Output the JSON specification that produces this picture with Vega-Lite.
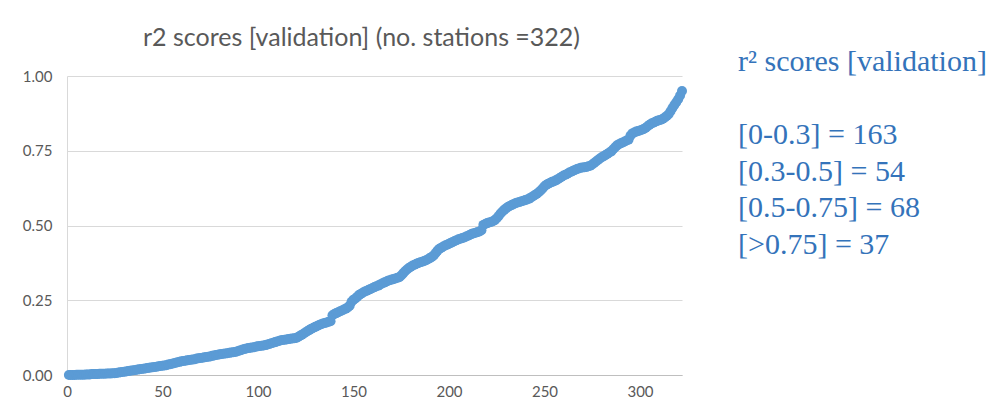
{
  "$schema": "https://vega.github.io/schema/vega-lite/v6.json",
  "background": "white",
  "padding": {"left": 22, "top": 26, "right": 0, "bottom": 0},
  "config": {"view": {"stroke": null}, "font": "Lato"},
  "spacing": 51,
  "datasets": {
    "scores": [
      {"station":1,"r2":0.000},{"station":2,"r2":0.000},{"station":3,"r2":0.000},{"station":4,"r2":0.000},{"station":5,"r2":0.001},{"station":6,"r2":0.001},{"station":7,"r2":0.001},{"station":8,"r2":0.001},{"station":9,"r2":0.001},{"station":10,"r2":0.002},
      {"station":11,"r2":0.002},{"station":12,"r2":0.002},{"station":13,"r2":0.003},{"station":14,"r2":0.003},{"station":15,"r2":0.003},{"station":16,"r2":0.003},{"station":17,"r2":0.004},{"station":18,"r2":0.004},{"station":19,"r2":0.004},{"station":20,"r2":0.004},
      {"station":21,"r2":0.005},{"station":22,"r2":0.005},{"station":23,"r2":0.005},{"station":24,"r2":0.006},{"station":25,"r2":0.006},{"station":26,"r2":0.007},{"station":27,"r2":0.008},{"station":28,"r2":0.009},{"station":29,"r2":0.010},{"station":30,"r2":0.011},
      {"station":31,"r2":0.012},{"station":32,"r2":0.013},{"station":33,"r2":0.014},{"station":34,"r2":0.015},{"station":35,"r2":0.016},{"station":36,"r2":0.017},{"station":37,"r2":0.018},{"station":38,"r2":0.019},{"station":39,"r2":0.020},{"station":40,"r2":0.021},
      {"station":41,"r2":0.022},{"station":42,"r2":0.023},{"station":43,"r2":0.024},{"station":44,"r2":0.025},{"station":45,"r2":0.026},{"station":46,"r2":0.027},{"station":47,"r2":0.028},{"station":48,"r2":0.029},{"station":49,"r2":0.030},{"station":50,"r2":0.031},
      {"station":51,"r2":0.032},{"station":52,"r2":0.033},{"station":53,"r2":0.035},{"station":54,"r2":0.036},{"station":55,"r2":0.038},{"station":56,"r2":0.039},{"station":57,"r2":0.041},{"station":58,"r2":0.043},{"station":59,"r2":0.044},{"station":60,"r2":0.046},
      {"station":61,"r2":0.047},{"station":62,"r2":0.048},{"station":63,"r2":0.049},{"station":64,"r2":0.050},{"station":65,"r2":0.051},{"station":66,"r2":0.052},{"station":67,"r2":0.053},{"station":68,"r2":0.055},{"station":69,"r2":0.056},{"station":70,"r2":0.057},
      {"station":71,"r2":0.058},{"station":72,"r2":0.059},{"station":73,"r2":0.060},{"station":74,"r2":0.061},{"station":75,"r2":0.062},{"station":76,"r2":0.064},{"station":77,"r2":0.065},{"station":78,"r2":0.067},{"station":79,"r2":0.068},{"station":80,"r2":0.069},
      {"station":81,"r2":0.070},{"station":82,"r2":0.071},{"station":83,"r2":0.072},{"station":84,"r2":0.073},{"station":85,"r2":0.074},{"station":86,"r2":0.075},{"station":87,"r2":0.076},{"station":88,"r2":0.077},{"station":89,"r2":0.079},{"station":90,"r2":0.081},
      {"station":91,"r2":0.083},{"station":92,"r2":0.085},{"station":93,"r2":0.087},{"station":94,"r2":0.089},{"station":95,"r2":0.090},{"station":96,"r2":0.091},{"station":97,"r2":0.092},{"station":98,"r2":0.093},{"station":99,"r2":0.095},{"station":100,"r2":0.096},
      {"station":101,"r2":0.097},{"station":102,"r2":0.098},{"station":103,"r2":0.099},{"station":104,"r2":0.100},{"station":105,"r2":0.102},{"station":106,"r2":0.104},{"station":107,"r2":0.106},{"station":108,"r2":0.108},{"station":109,"r2":0.110},{"station":110,"r2":0.112},
      {"station":111,"r2":0.114},{"station":112,"r2":0.116},{"station":113,"r2":0.117},{"station":114,"r2":0.118},{"station":115,"r2":0.119},{"station":116,"r2":0.120},{"station":117,"r2":0.121},{"station":118,"r2":0.122},{"station":119,"r2":0.123},{"station":120,"r2":0.124},
      {"station":121,"r2":0.127},{"station":122,"r2":0.131},{"station":123,"r2":0.135},{"station":124,"r2":0.139},{"station":125,"r2":0.143},{"station":126,"r2":0.147},{"station":127,"r2":0.151},{"station":128,"r2":0.155},{"station":129,"r2":0.158},{"station":130,"r2":0.161},
      {"station":131,"r2":0.164},{"station":132,"r2":0.167},{"station":133,"r2":0.170},{"station":134,"r2":0.172},{"station":135,"r2":0.174},{"station":136,"r2":0.176},{"station":137,"r2":0.178},{"station":138,"r2":0.180},{"station":139,"r2":0.200},{"station":140,"r2":0.204},
      {"station":141,"r2":0.207},{"station":142,"r2":0.210},{"station":143,"r2":0.213},{"station":144,"r2":0.216},{"station":145,"r2":0.219},{"station":146,"r2":0.222},{"station":147,"r2":0.226},{"station":148,"r2":0.232},{"station":149,"r2":0.245},{"station":150,"r2":0.252},
      {"station":151,"r2":0.256},{"station":152,"r2":0.262},{"station":153,"r2":0.268},{"station":154,"r2":0.272},{"station":155,"r2":0.276},{"station":156,"r2":0.279},{"station":157,"r2":0.282},{"station":158,"r2":0.285},{"station":159,"r2":0.288},{"station":160,"r2":0.291},
      {"station":161,"r2":0.294},{"station":162,"r2":0.297},{"station":163,"r2":0.299},{"station":164,"r2":0.303},{"station":165,"r2":0.306},{"station":166,"r2":0.309},{"station":167,"r2":0.312},{"station":168,"r2":0.315},{"station":169,"r2":0.317},{"station":170,"r2":0.319},
      {"station":171,"r2":0.321},{"station":172,"r2":0.323},{"station":173,"r2":0.325},{"station":174,"r2":0.327},{"station":175,"r2":0.333},{"station":176,"r2":0.340},{"station":177,"r2":0.347},{"station":178,"r2":0.353},{"station":179,"r2":0.358},{"station":180,"r2":0.362},
      {"station":181,"r2":0.366},{"station":182,"r2":0.369},{"station":183,"r2":0.372},{"station":184,"r2":0.375},{"station":185,"r2":0.377},{"station":186,"r2":0.379},{"station":187,"r2":0.381},{"station":188,"r2":0.384},{"station":189,"r2":0.387},{"station":190,"r2":0.391},
      {"station":191,"r2":0.395},{"station":192,"r2":0.400},{"station":193,"r2":0.408},{"station":194,"r2":0.416},{"station":195,"r2":0.422},{"station":196,"r2":0.426},{"station":197,"r2":0.430},{"station":198,"r2":0.433},{"station":199,"r2":0.436},{"station":200,"r2":0.439},
      {"station":201,"r2":0.442},{"station":202,"r2":0.445},{"station":203,"r2":0.448},{"station":204,"r2":0.451},{"station":205,"r2":0.454},{"station":206,"r2":0.456},{"station":207,"r2":0.458},{"station":208,"r2":0.460},{"station":209,"r2":0.463},{"station":210,"r2":0.466},
      {"station":211,"r2":0.469},{"station":212,"r2":0.472},{"station":213,"r2":0.474},{"station":214,"r2":0.476},{"station":215,"r2":0.478},{"station":216,"r2":0.480},{"station":217,"r2":0.484},{"station":218,"r2":0.502},{"station":219,"r2":0.505},{"station":220,"r2":0.508},
      {"station":221,"r2":0.510},{"station":222,"r2":0.512},{"station":223,"r2":0.514},{"station":224,"r2":0.518},{"station":225,"r2":0.524},{"station":226,"r2":0.532},{"station":227,"r2":0.540},{"station":228,"r2":0.547},{"station":229,"r2":0.553},{"station":230,"r2":0.558},
      {"station":231,"r2":0.563},{"station":232,"r2":0.566},{"station":233,"r2":0.569},{"station":234,"r2":0.572},{"station":235,"r2":0.575},{"station":236,"r2":0.577},{"station":237,"r2":0.579},{"station":238,"r2":0.581},{"station":239,"r2":0.583},{"station":240,"r2":0.585},
      {"station":241,"r2":0.587},{"station":242,"r2":0.590},{"station":243,"r2":0.594},{"station":244,"r2":0.598},{"station":245,"r2":0.602},{"station":246,"r2":0.606},{"station":247,"r2":0.611},{"station":248,"r2":0.617},{"station":249,"r2":0.624},{"station":250,"r2":0.631},
      {"station":251,"r2":0.636},{"station":252,"r2":0.640},{"station":253,"r2":0.643},{"station":254,"r2":0.646},{"station":255,"r2":0.648},{"station":256,"r2":0.651},{"station":257,"r2":0.655},{"station":258,"r2":0.659},{"station":259,"r2":0.663},{"station":260,"r2":0.667},
      {"station":261,"r2":0.670},{"station":262,"r2":0.673},{"station":263,"r2":0.677},{"station":264,"r2":0.680},{"station":265,"r2":0.683},{"station":266,"r2":0.686},{"station":267,"r2":0.689},{"station":268,"r2":0.691},{"station":269,"r2":0.693},{"station":270,"r2":0.694},
      {"station":271,"r2":0.695},{"station":272,"r2":0.696},{"station":273,"r2":0.698},{"station":274,"r2":0.700},{"station":275,"r2":0.704},{"station":276,"r2":0.709},{"station":277,"r2":0.714},{"station":278,"r2":0.719},{"station":279,"r2":0.724},{"station":280,"r2":0.728},
      {"station":281,"r2":0.732},{"station":282,"r2":0.736},{"station":283,"r2":0.740},{"station":284,"r2":0.744},{"station":285,"r2":0.748},{"station":286,"r2":0.755},{"station":287,"r2":0.762},{"station":288,"r2":0.768},{"station":289,"r2":0.772},{"station":290,"r2":0.775},
      {"station":291,"r2":0.778},{"station":292,"r2":0.781},{"station":293,"r2":0.784},{"station":294,"r2":0.787},{"station":295,"r2":0.800},{"station":296,"r2":0.808},{"station":297,"r2":0.811},{"station":298,"r2":0.814},{"station":299,"r2":0.816},{"station":300,"r2":0.818},
      {"station":301,"r2":0.820},{"station":302,"r2":0.823},{"station":303,"r2":0.827},{"station":304,"r2":0.832},{"station":305,"r2":0.837},{"station":306,"r2":0.841},{"station":307,"r2":0.844},{"station":308,"r2":0.847},{"station":309,"r2":0.850},{"station":310,"r2":0.852},
      {"station":311,"r2":0.854},{"station":312,"r2":0.857},{"station":313,"r2":0.861},{"station":314,"r2":0.866},{"station":315,"r2":0.872},{"station":316,"r2":0.882},{"station":317,"r2":0.893},{"station":318,"r2":0.903},{"station":319,"r2":0.912},{"station":320,"r2":0.922},
      {"station":321,"r2":0.935},{"station":322,"r2":0.950}
    ],
    "summary": [
      {"row":3,"col":0,"line":"[0-0.3] = 163"},
      {"row":4,"col":0,"line":"[0.3-0.5] = 54"},
      {"row":5,"col":0,"line":"[0.5-0.75] = 68"},
      {"row":6,"col":0,"line":"[>0.75] = 37"}
    ]
  },
  "hconcat": [
    {
      "width": 615,
      "height": 299,
      "title": {"text": "r2 scores [validation] (no. stations =322)", "font": "Lato", "fontSize": 25, "fontWeight": "normal", "color": "#595959", "offset": 18, "anchor": "middle", "dx": -13},
      "data": {"name": "scores"},
      "mark": {"type": "circle", "size": 100, "opacity": 1, "color": "#5B9BD5"},
      "encoding": {
        "x": {"field": "station", "type": "quantitative", "scale": {"domain": [0, 322], "nice": false, "zero": false},
              "axis": {"values": [0, 50, 100, 150, 200, 250, 300], "grid": false, "ticks": false, "domainColor": "#BFBFBF", "labelColor": "#595959", "labelFont": "Lato", "labelFontSize": 15, "labelPadding": 9, "labelFlush": false, "title": null}},
        "y": {"field": "r2", "type": "quantitative", "scale": {"domain": [0, 1], "nice": false},
              "axis": {"values": [0, 0.25, 0.5, 0.75, 1], "format": ".2f", "grid": true, "gridColor": "#D9D9D9", "domainColor": "#D9D9D9", "ticks": false, "labelColor": "#595959", "labelFont": "Lato", "labelFontSize": 15, "labelPadding": 15, "labelFlush": false, "title": null}}
      }
    },
    {
      "width": 265,
      "height": 299,
      "title": {"text": "r² scores [validation]", "font": "Liberation Serif", "fontSize": 30, "fontWeight": "normal", "color": "#3473BA", "anchor": "start", "offset": -1},
      "data": {"name": "summary"},
      "mark": {"type": "text", "align": "left", "baseline": "middle", "font": "Liberation Serif", "fontSize": 30, "color": "#3473BA"},
      "encoding": {
        "x": {"field": "col", "type": "quantitative", "scale": {"domain": [0, 1]}, "axis": null},
        "y": {"field": "row", "type": "quantitative", "scale": {"domain": [1.39, 9.55], "nice": false, "zero": false, "reverse": true}, "axis": null},
        "text": {"field": "line"}
      }
    }
  ]
}
